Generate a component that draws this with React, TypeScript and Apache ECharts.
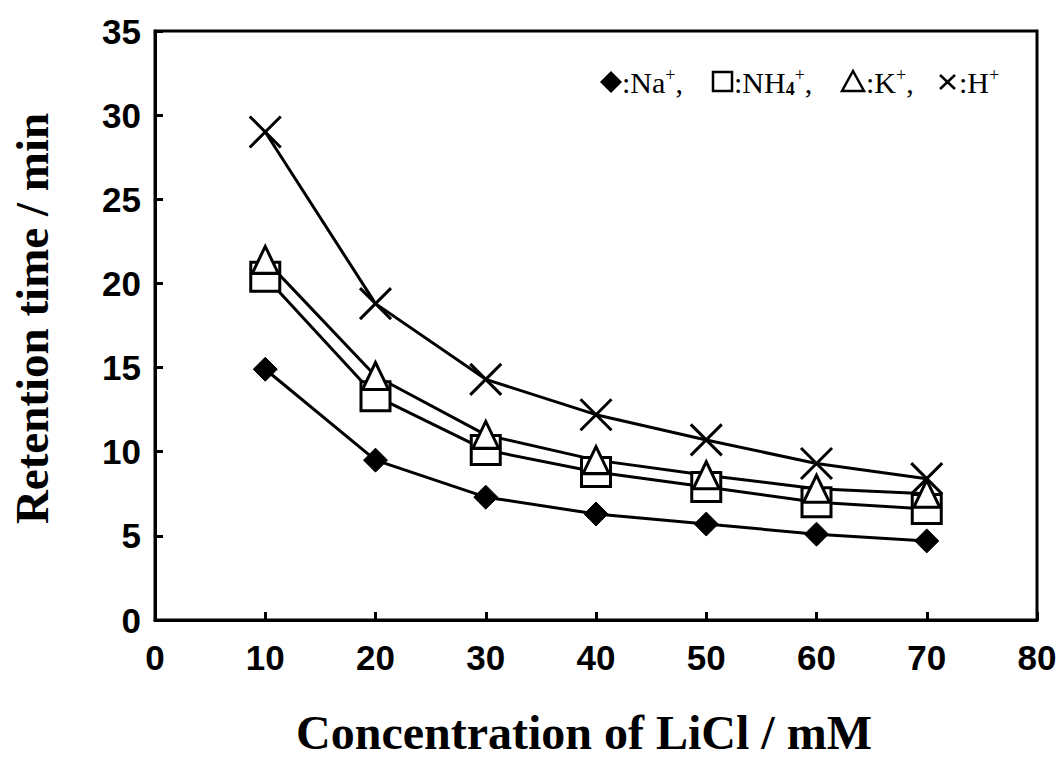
import React, { useEffect, useRef } from "react";
import * as echarts from "echarts";

// LiCl concentration (mM) and retention times (min) for each cation
const concentrations = [10, 20, 30, 40, 50, 60, 70];
const naTimes = [14.9, 9.5, 7.3, 6.3, 5.7, 5.1, 4.7];
const nh4Times = [20.4, 13.3, 10.1, 8.8, 7.9, 7.0, 6.6];
const kTimes = [21.4, 14.5, 11.0, 9.5, 8.6, 7.8, 7.5];
const hTimes = [29.0, 18.8, 14.3, 12.2, 10.7, 9.3, 8.4];

const xTicks = { min: 0, max: 80, interval: 10 };
const yTicks = { min: 0, max: 35, interval: 5 };

const CROSS = "path://M0 0L10 10M10 0L0 10";

const pairs = (ys: number[]) => concentrations.map((c, i) => [c, ys[i]]);

const legendText = {
  fontFamily: "Liberation Serif",
  fontSize: 30,
  fill: "#000",
  rich: {
    t: { fontSize: 30, fontFamily: "Liberation Serif", lineHeight: 32 },
    sup: { fontSize: 18, fontFamily: "Liberation Serif", verticalAlign: "top" as const, lineHeight: 32 },
    sub: { fontSize: 18, fontFamily: "Liberation Serif", fontWeight: "bold" as const, verticalAlign: "bottom" as const, lineHeight: 28 },
  },
};

export default function App() {
  const ref = useRef<HTMLDivElement>(null);

  useEffect(() => {
    document.body.style.margin = "0";
    const chart = echarts.init(ref.current!, undefined, { renderer: "svg" });
    const baseSeries = {
      type: "line" as const,
      lineStyle: { color: "#000", width: 3 },
      itemStyle: { color: "#fff", borderColor: "#000", borderWidth: 3 },
      z: 2,
    };
    const ly = 82;
    chart.setOption({
      animation: false,
      backgroundColor: "#fff",
      grid: {
        left: 154,
        right: 25,
        top: 31,
        bottom: 139,
        show: true,
        borderColor: "#000",
        borderWidth: 3,
      },
      xAxis: {
        type: "value",
        ...xTicks,
        name: "Concentration of LiCl / mM",
        nameLocation: "middle",
        nameGap: 88,
        nameTextStyle: {
          fontFamily: "Liberation Serif",
          fontWeight: "bold",
          fontSize: 48,
          color: "#000",
          padding: [0, 24, 0, 0],
        },
        axisLine: { lineStyle: { color: "#000", width: 3 } },
        axisTick: { inside: true, length: 8, lineStyle: { color: "#000", width: 3 } },
        axisLabel: { fontFamily: "Liberation Sans", fontWeight: "bold", fontSize: 35, color: "#000", margin: 20 },
        splitLine: { show: false },
      },
      yAxis: {
        type: "value",
        ...yTicks,
        name: "Retention time / min",
        nameLocation: "middle",
        nameGap: 100,
        nameTextStyle: {
          fontFamily: "Liberation Serif",
          fontWeight: "bold",
          fontSize: 47,
          color: "#000",
          padding: [0, 0, 0, 14],
        },
        axisLine: { lineStyle: { color: "#000", width: 3 } },
        axisTick: { inside: true, length: 8, lineStyle: { color: "#000", width: 3 } },
        axisLabel: { fontFamily: "Liberation Sans", fontWeight: "bold", fontSize: 35, color: "#000", margin: 14 },
        splitLine: { show: false },
      },
      series: [
        {
          ...baseSeries,
          name: "Na+",
          data: pairs(naTimes),
          symbol: "diamond",
          symbolSize: 24,
          itemStyle: { color: "#000", borderColor: "#000", borderWidth: 1 },
        },
        { ...baseSeries, name: "NH4+", data: pairs(nh4Times), symbol: "rect", symbolSize: 29 },
        { ...baseSeries, name: "K+", data: pairs(kTimes), symbol: "triangle", symbolSize: [26, 27] },
        {
          ...baseSeries,
          name: "H+",
          data: pairs(hTimes),
          symbol: CROSS,
          symbolSize: 31,
          itemStyle: { color: "#000", borderColor: "#000", borderWidth: 3 },
        },
      ],
      graphic: [
        { type: "polygon", shape: { points: [[611, ly - 11], [622, ly], [611, ly + 11], [600, ly]] }, style: { fill: "#000" } },
        { type: "text", x: 622, y: ly, style: { ...legendText, text: "{t|:Na}{sup|+}{t|,}", verticalAlign: "middle" } },
        { type: "rect", shape: { x: 713, y: ly - 10, width: 19, height: 19 }, style: { fill: "#fff", stroke: "#000", lineWidth: 2.5 } },
        { type: "text", x: 734, y: ly, style: { ...legendText, text: "{t|:NH}{sub|4}{sup|+}{t|,}", verticalAlign: "middle" } },
        { type: "polygon", shape: { points: [[853, ly - 11], [864, ly + 9], [842, ly + 9]] }, style: { fill: "#fff", stroke: "#000", lineWidth: 2.5 } },
        { type: "text", x: 866, y: ly, style: { ...legendText, text: "{t|:K}{sup|+}{t|,}", verticalAlign: "middle" } },
        { type: "line", shape: { x1: 940, y1: ly - 7, x2: 955, y2: ly + 7 }, style: { stroke: "#000", lineWidth: 2.5 } },
        { type: "line", shape: { x1: 955, y1: ly - 7, x2: 940, y2: ly + 7 }, style: { stroke: "#000", lineWidth: 2.5 } },
        { type: "text", x: 959, y: ly, style: { ...legendText, text: "{t|:H}{sup|+}", verticalAlign: "middle" } },
      ],
    });
    return () => chart.dispose();
  }, []);

  return <div ref={ref} style={{ width: 1062, height: 761 }} />;
}
